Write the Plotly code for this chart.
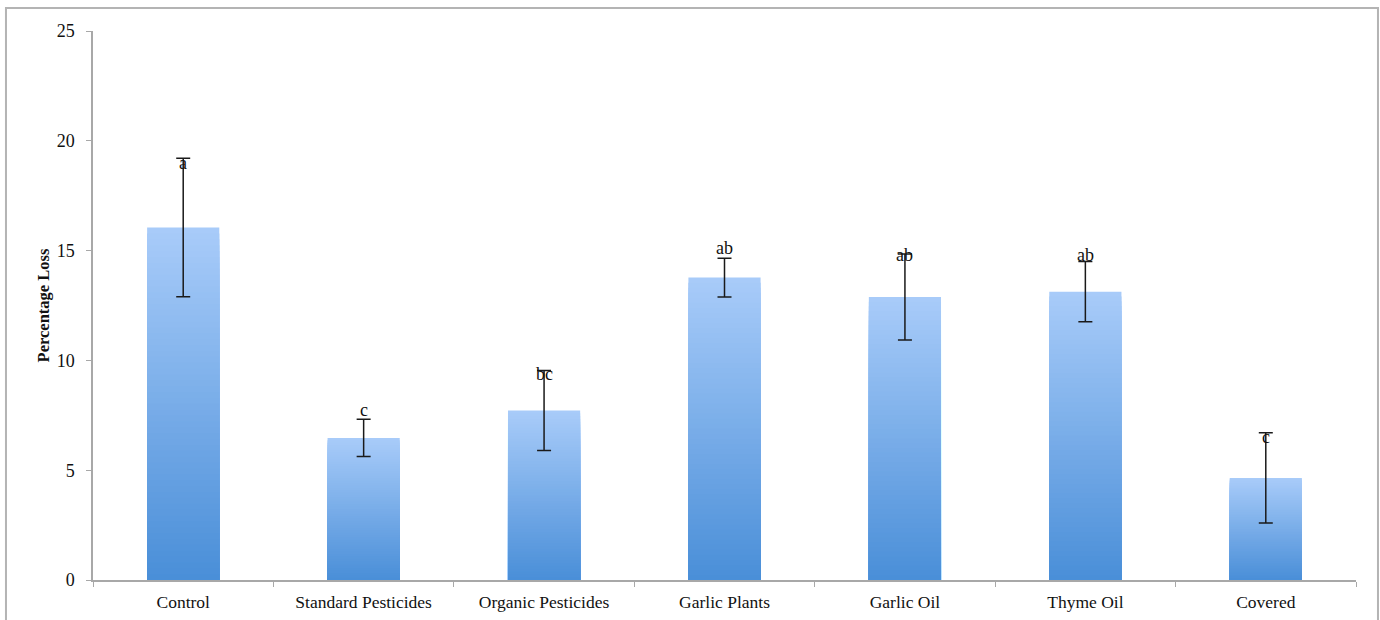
import plotly.graph_objects as go

# Mean percentage loss per treatment, with error margins and significance letters
treatments = ["Control", "Standard Pesticides", "Organic Pesticides", "Garlic Plants",
              "Garlic Oil", "Thyme Oil", "Covered"]
mean_loss = [16.05, 6.47, 7.72, 13.77, 12.89, 13.13, 4.65]
error_margin = [3.15, 0.85, 1.82, 0.88, 1.96, 1.37, 2.05]
group_letters = ["a", "c", "bc", "ab", "ab", "ab", "c"]
letter_height = [19.0, 7.75, 9.4, 15.1, 14.8, 14.8, 6.5]

y_ticks = [0, 5, 10, 15, 20, 25]

TOP_RGB = (168, 203, 249)
BOTTOM_RGB = (74, 143, 216)
STEPS = 60

fig = go.Figure()

# Vertical gradient: overlay progressively shorter, darker bars from the baseline
for i in range(STEPS):
    frac = 1 - i / STEPS
    t = i / (STEPS - 1)
    r, g, b = (round(TOP_RGB[k] + (BOTTOM_RGB[k] - TOP_RGB[k]) * t) for k in range(3))
    fig.add_trace(go.Bar(
        x=treatments,
        y=[v * frac for v in mean_loss],
        marker=dict(color=f"rgb({r},{g},{b})", line=dict(width=0)),
        width=0.4,
        showlegend=False,
        hoverinfo="skip",
    ))

# Error bars centred on each mean
fig.add_trace(go.Scatter(
    x=treatments,
    y=mean_loss,
    mode="markers",
    marker=dict(size=1, color="rgba(0,0,0,0)"),
    error_y=dict(type="data", array=error_margin, visible=True,
                 color="#1a1a1a", thickness=1.5, width=7),
    showlegend=False,
    hoverinfo="skip",
))

# Significance letters
for cat, letter, h in zip(treatments, group_letters, letter_height):
    fig.add_annotation(x=cat, y=h, text=letter, showarrow=False,
                       font=dict(family="Liberation Serif", size=18, color="#111"),
                       yanchor="middle")

# Outer frame around the chart
fig.add_shape(type="rect", xref="paper", yref="paper",
              x0=-0.0689, x1=1.0174, y0=-0.2, y1=1.0419,
              line=dict(color="#b4b4b4", width=2), fillcolor="rgba(0,0,0,0)",
              layer="below")

fig.update_layout(
    width=1380, height=620,
    margin=dict(l=93, r=24, t=31, b=40),
    paper_bgcolor="white", plot_bgcolor="white",
    barmode="overlay",
    font=dict(family="Liberation Serif", size=17, color="#111"),
    xaxis=dict(
        automargin=False,
        showline=True, linecolor="#a8a8a8", linewidth=1.5,
        ticks="outside", tickson="boundaries", ticklen=5, tickcolor="#a8a8a8",
        tickfont=dict(family="Liberation Serif", size=17.5, color="#111"),
        ticklabelstandoff=5,
        showgrid=False, zeroline=False,
    ),
    yaxis=dict(
        automargin=False,
        range=[0, 25], tickvals=y_ticks,
        showline=True, linecolor="#a8a8a8", linewidth=1.5,
        ticks="outside", ticklen=5, tickcolor="#a8a8a8",
        tickfont=dict(family="Liberation Serif", size=18, color="#111"),
        ticklabelstandoff=8,
        showgrid=False, zeroline=False,
        title=dict(text="<b>Percentage Loss</b>", standoff=3,
                   font=dict(family="Liberation Serif", size=16.5, color="#111")),
    ),
)

fig.write_html("out.html")
